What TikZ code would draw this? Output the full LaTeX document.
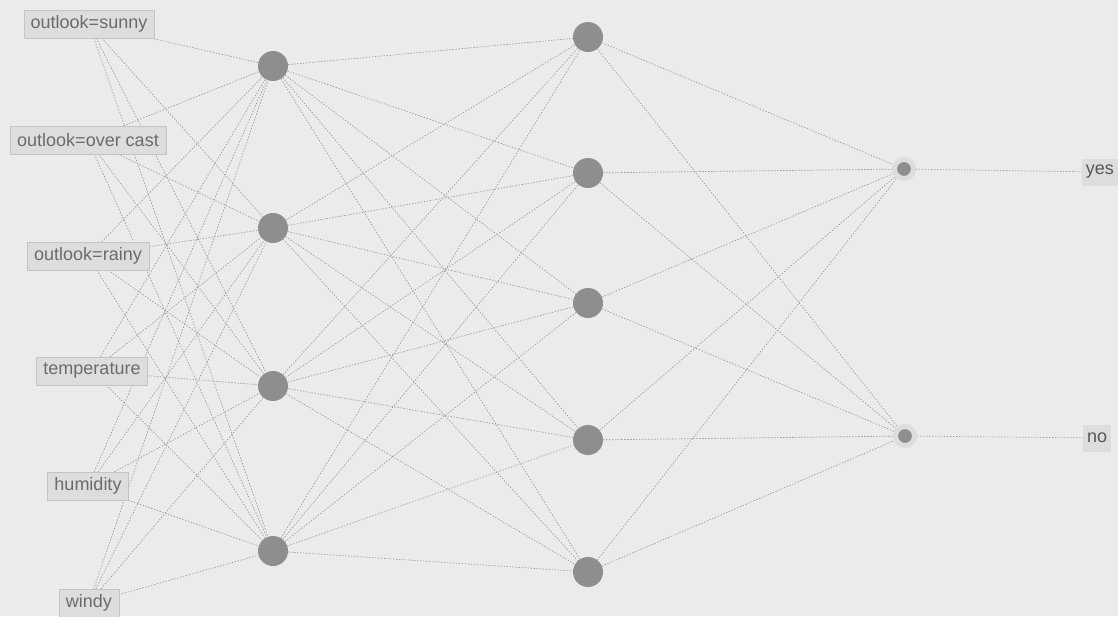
\documentclass[tikz,border=0pt]{standalone}
\usepackage{fontspec}
\setmainfont{Liberation Sans}
\usetikzlibrary{backgrounds}
\definecolor{nnback}{HTML}{EBEBEB}
\definecolor{nnline}{HTML}{9C9C9C}
\definecolor{nnunit}{HTML}{8E8E8E}
\definecolor{nnbox}{HTML}{DDDDDD}
\definecolor{nnboxline}{HTML}{C4C4C4}
\definecolor{nntext}{HTML}{6B6B6B}
\tikzset{
  feature/.style={draw=nnboxline,fill=nnbox,text=nntext,inner xsep=7pt,minimum height=28pt,font=\fontsize{18}{21}\selectfont},
  target/.style={fill=nnbox,text=nntext!80!black,inner xsep=4pt,minimum height=27pt,font=\fontsize{18}{21}\selectfont},
  unit/.style={circle,fill=nnunit,minimum size=30pt,inner sep=0pt},
  outunit/.style={circle,fill=nnunit,draw=nnbox,line width=5pt,minimum size=19pt,inner sep=0pt},
  link/.style={draw=nnline,line width=0.7pt,dash pattern=on 1.4pt off 1.6pt}
}
\begin{document}
\begin{tikzpicture}[x=1pt,y=-1pt]
  \useasboundingbox (0,0) rectangle (1118,616);
  % inputs
  \node[feature] (in1) at (89,24) {outlook=sunny};
  \node[feature] (in2) at (88,140) {outlook=over cast};
  \node[feature] (in3) at (88,256) {outlook=rainy};
  \node[feature] (in4) at (92,371) {temperature};
  \node[feature] (in5) at (88,486) {humidity};
  \node[feature] (in6) at (89,603) {windy};
  % first hidden layer
  \foreach \i/\y in {1/66,2/228,3/386,4/551}
    \node[unit] (ha\i) at (273,\y) {};
  % second hidden layer
  \foreach \i/\y in {1/37,2/173,3/303,4/440,5/572}
    \node[unit] (hb\i) at (588,\y) {};
  % outputs
  \node[outunit] (out1) at (904,169) {};
  \node[outunit] (out2) at (905,436) {};
  \node[target,anchor=east] (yes) at (1118,172) {yes};
  \node[target] (no) at (1097,438) {no};
  \begin{scope}[on background layer]
    \fill[nnback] (0,0) rectangle (1118,616);
    \foreach \i in {1,...,6}
      \foreach \j in {1,...,4}
        \draw[link] (in\i) -- (ha\j);
    \foreach \i in {1,...,4}
      \foreach \j in {1,...,5}
        \draw[link] (ha\i) -- (hb\j);
    \foreach \i in {1,...,5}
      \foreach \j in {1,2}
        \draw[link] (hb\i) -- (out\j);
    \draw[link] (out1) -- (yes);
    \draw[link] (out2) -- (no);
  \end{scope}
\end{tikzpicture}
\end{document}
